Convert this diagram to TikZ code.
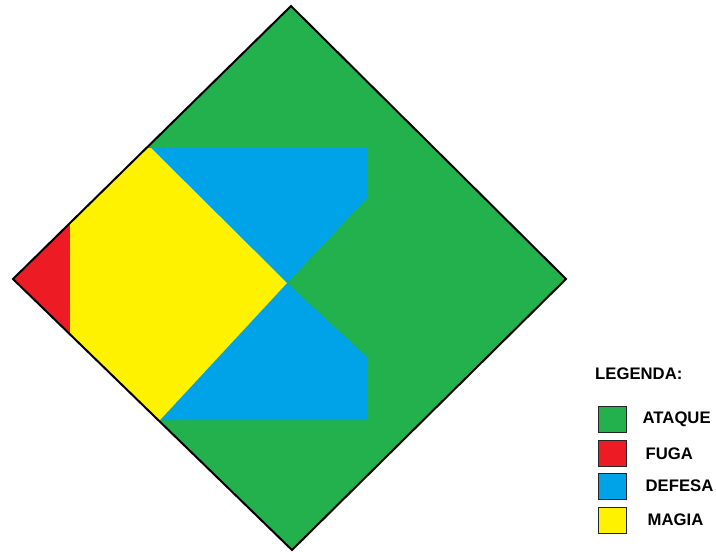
\documentclass[tikz,border=0pt]{standalone}
\usepackage{fontspec}
\setmainfont{Liberation Sans}
\usetikzlibrary{positioning}
\definecolor{ataque}{HTML}{22B14C}
\definecolor{fuga}{HTML}{ED1C24}
\definecolor{defesa}{HTML}{00A2E8}
\definecolor{magia}{HTML}{FFF200}

\begin{document}
\begin{tikzpicture}[
  x=1pt, y=-1pt,
  font=\bfseries\fontsize{16.7}{18}\selectfont,
  outline/.style={draw=black, line width=2pt, line join=miter},
  swatch/.style={draw=black!85, line width=0.9pt, minimum width=28pt,
                 minimum height=26pt, inner sep=0pt},
  key/.style={anchor=west, inner sep=0pt},
]
\useasboundingbox (0,0) rectangle (716,552);

% ---- Diamond corners --------------------------------------------------------
\coordinate (top) at (291,6);
\coordinate (right) at (566,279);
\coordinate (bottom) at (292,550);
\coordinate (left) at (13,279);
\coordinate (mid) at (287,283);

% ---- Regions ----------------------------------------------------------------
\begin{scope}
  \clip (top) -- (right) -- (bottom) -- (left) -- cycle;
  \fill[ataque] (top) -- (right) -- (bottom) -- (left) -- cycle;
  \fill[defesa] (151,148) -- (367,148) -- (367,198) -- (mid) -- cycle;
  \fill[defesa] (mid) -- (367,357) -- (367,420) -- (140,420) -- cycle;
  \fill[magia] (0,148) -- (151,148) -- (mid) -- (160,420) -- (0,420) -- cycle;
  \fill[fuga] (0,200) rectangle (70,360);
\end{scope}
\draw[outline] (top) -- (right) -- (bottom) -- (left) -- cycle;

% ---- Legend -----------------------------------------------------------------
\node[key] (legenda) at (595,374) {LEGENDA:};
\node[swatch, fill=ataque] (sataque) at (612,419.5) {};
\node[swatch, fill=fuga] (sfuga) at (612,453.5) {};
\node[swatch, fill=defesa] (sdefesa) at (612,486) {};
\node[swatch, fill=magia] (smagia) at (612,520) {};
\node[key, right=16pt of sataque] (lataque) {ATAQUE};
\node[key, right=19pt of sfuga] (lfuga) {FUGA};
\node[key, right=19pt of sdefesa] (ldefesa) {DEFESA};
\node[key, right=21pt of smagia] (lmagia) {MAGIA};

\end{tikzpicture}
\end{document}
